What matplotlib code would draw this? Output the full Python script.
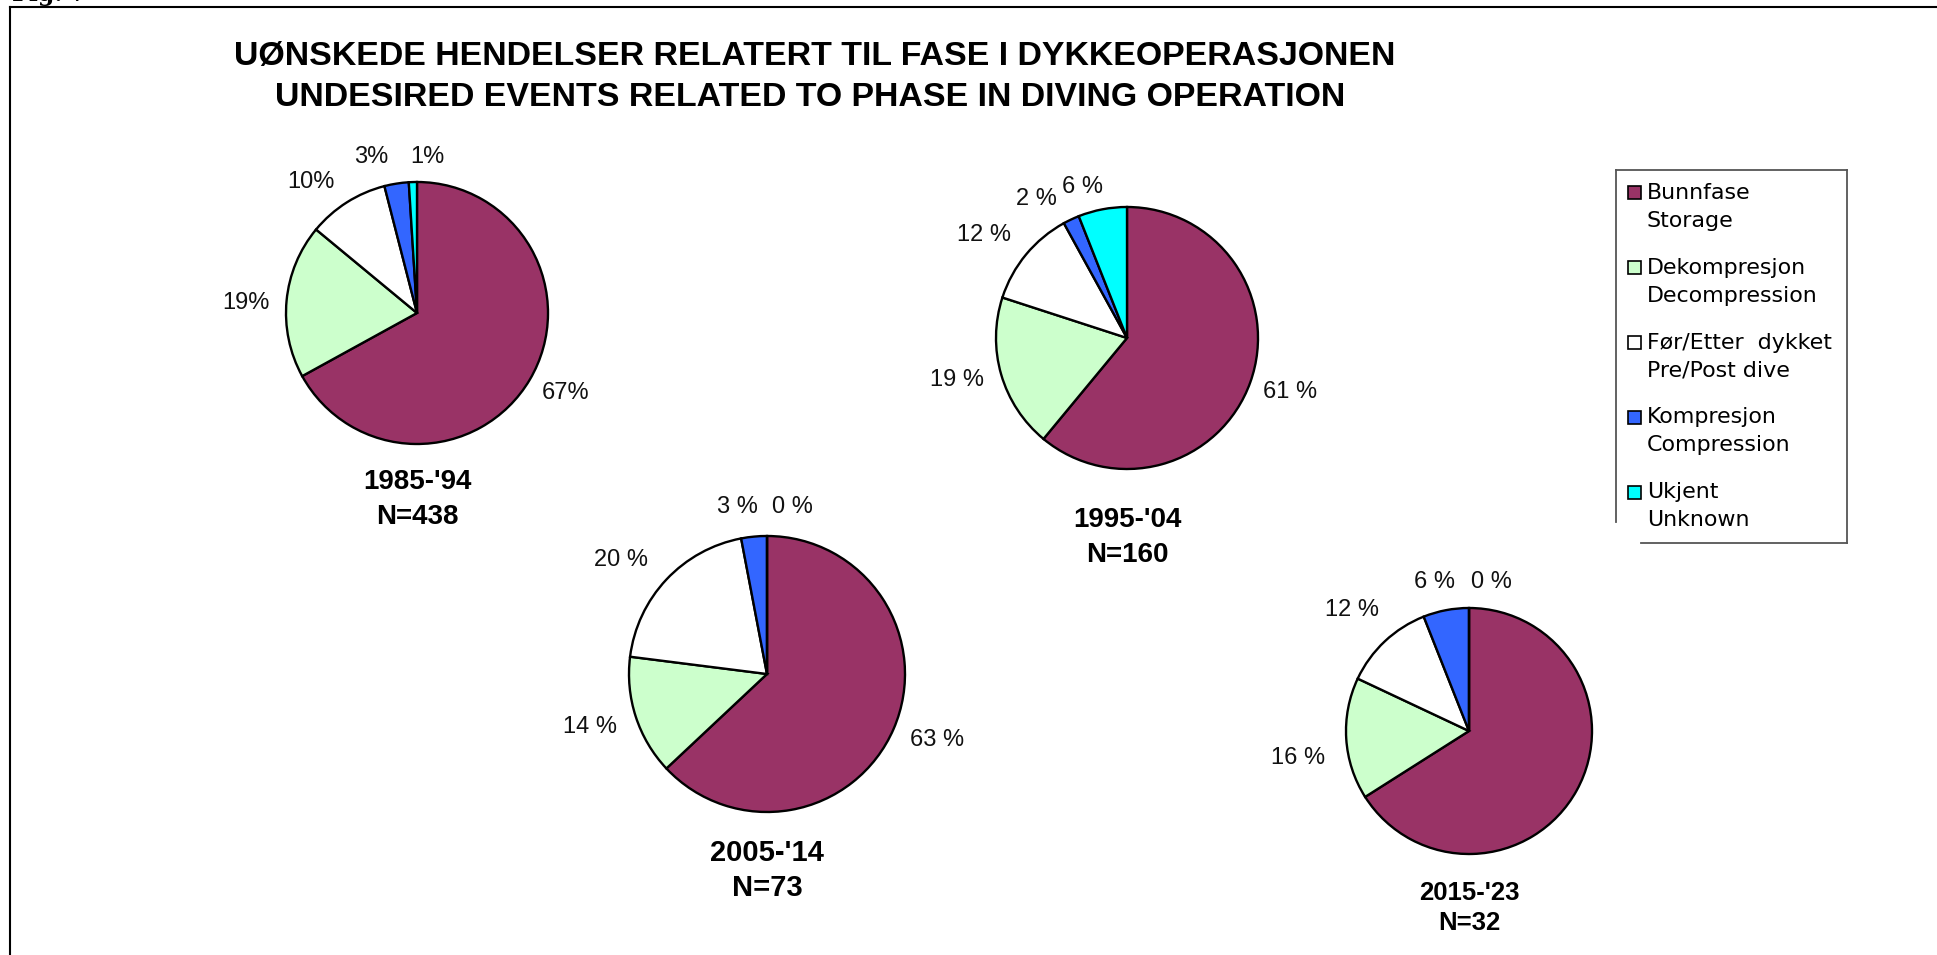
import matplotlib
matplotlib.use("Agg")
import matplotlib.pyplot as plt
from matplotlib.patches import Rectangle
from matplotlib.lines import Line2D

# ---------------- data ----------------
categories_no = ["Bunnfase", "Dekompresjon", "Før/Etter  dykket", "Kompresjon", "Ukjent"]
categories_en = ["Storage", "Decompression", "Pre/Post dive", "Compression", "Unknown"]
periods = ["1985-'94", "1995-'04", "2005-'14", "2015-'23"]
n_events = [438, 160, 73, 32]
share_1985_94 = [67, 19, 10, 3, 1]
share_1995_04 = [61, 19, 12, 2, 6]
share_2005_14 = [63, 14, 20, 3, 0]
share_2015_23 = [66, 16, 12, 6, 0]
colors = ["#993366", "#CCFFCC", "#FFFFFF", "#3366FF", "#00FFFF"]
title_lines = ["UØNSKEDE HENDELSER RELATERT TIL FASE I DYKKEOPERASJONEN",
               "UNDESIRED EVENTS RELATED TO PHASE IN DIVING OPERATION"]

shares = [share_1985_94, share_1995_04, share_2005_14, share_2015_23]

# ---------------- layout (pixels, top-left origin) ----------------
W, H = 1937, 955
pie_layout = [
    dict(center=(417, 313), r=131, fmt="{}%",
         labels=[(566, 393), (246, 303), (311, 182), (371, 157), (427, 157)],
         show=[True] * 5, tsize=20, ty=(482, 517)),
    dict(center=(1127, 338), r=131, fmt="{} %",
         labels=[(1290, 392), (957, 380), (984, 235), (1036, 199), (1082, 187)],
         show=[True] * 5, tsize=20, ty=(520, 555)),
    dict(center=(767, 674), r=138, fmt="{} %",
         labels=[(937, 740), (590, 727), (621, 560), (737, 507), (792, 507)],
         show=[True] * 5, tsize=21, ty=(853, 888)),
    dict(center=(1469, 731), r=123, fmt="{} %",
         labels=[(1520, 760), (1298, 758), (1352, 610), (1434, 582), (1491, 582)],
         show=[False, True, True, True, True], tsize=18.5, ty=(893, 923)),
]

fig = plt.figure(figsize=(W / 100, H / 100), dpi=100)
ax = fig.add_axes([0, 0, 1, 1])

for vals, lay, per, n in zip(shares, pie_layout, periods, n_events):
    lbls = [lay["fmt"].format(v) if s else "" for v, s in zip(vals, lay["show"])]
    wedges, texts = ax.pie(vals, colors=colors, labels=lbls, center=lay["center"],
                           radius=lay["r"], startangle=-90, counterclock=True,
                           wedgeprops=dict(edgecolor="black", linewidth=1.7),
                           textprops=dict(fontsize=17, family="Liberation Sans",
                                          color="#111111"))
    for t, pos in zip(texts, lay["labels"]):
        t.set_position(pos)
        t.set_ha("center")
        t.set_va("center")
    cx = lay["center"][0]
    ax.text(cx, lay["ty"][0], per, ha="center", va="center", fontsize=lay["tsize"],
            fontweight="bold", family="Liberation Sans")
    ax.text(cx, lay["ty"][1], f"N={n}", ha="center", va="center", fontsize=lay["tsize"],
            fontweight="bold", family="Liberation Sans")

ax.set_xlim(0, W)
ax.set_ylim(H, 0)
ax.set_aspect("equal")
ax.axis("off")

# title
ax.text(815, 57, title_lines[0], ha="center", va="center", fontsize=24.4,
        fontweight="bold", family="Liberation Sans")
ax.text(810, 98, title_lines[1], ha="center", va="center", fontsize=24.4,
        fontweight="bold", family="Liberation Sans")

# outer frame (extends past right and bottom edges)
ax.add_line(Line2D([10, 10], [7, H + 10], color="black", lw=1.5, clip_on=False))
ax.add_line(Line2D([10, W + 10], [7, 7], color="black", lw=1.5, clip_on=False))
ax.text(12, 1, "Fig. 7", ha="left", va="baseline", fontsize=17, fontweight="bold",
        family="DejaVu Serif")

# legend (manual)
lx0, ly0, lx1, ly1 = 1616, 170, 1847, 543
leg_kw = dict(color="#555555", lw=1.3)
ax.add_line(Line2D([lx0, lx1], [ly0, ly0], **leg_kw))
ax.add_line(Line2D([lx1, lx1], [ly0, ly1], **leg_kw))
ax.add_line(Line2D([1641, lx1], [ly1, ly1], **leg_kw))
ax.add_line(Line2D([lx0, lx0], [ly0, 522], **leg_kw))
for i, (no, en, c) in enumerate(zip(categories_no, categories_en, colors)):
    y = 193 + 74.8 * i
    ax.add_patch(Rectangle((1628, y - 6.5), 13, 13, facecolor=c, edgecolor="black", lw=1.2))
    ax.text(1647, y, no, ha="left", va="center", fontsize=15.9, family="DejaVu Sans")
    ax.text(1647, y + 28, en, ha="left", va="center", fontsize=15.9, family="DejaVu Sans")

fig.savefig("out.png", dpi=100, facecolor="white")
